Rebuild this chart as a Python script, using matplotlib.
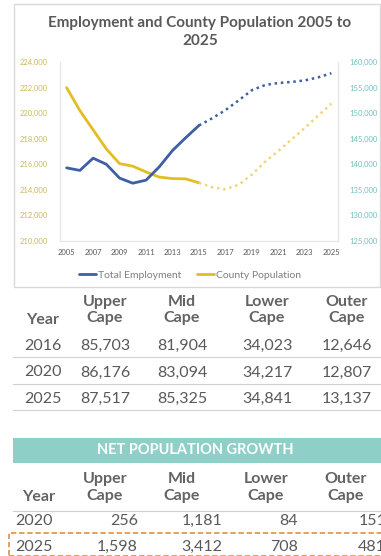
import matplotlib.pyplot as plt
from matplotlib.patches import Rectangle
from matplotlib.lines import Line2D

W, H = 381, 556

# chart data
years_actual = list(range(2005, 2016))
years_proj = list(range(2015, 2026))
employment_actual = [139300, 138800, 141200, 140000, 137300, 136300, 136900,
                     139500, 142700, 145200, 147600]
employment_proj = [147600, 149000, 150600, 152500, 154500, 155500, 155900,
                   156100, 156400, 157000, 157800]
population_actual = [222000, 220200, 218700, 217200, 216050, 215850, 215400,
                     215000, 214880, 214860, 214550]
population_proj = [214550, 214200, 214050, 214400, 215200, 216200, 217050,
                   217950, 218850, 219800, 220750]

# table data
regions = ['Upper\nCape', 'Mid\nCape', 'Lower\nCape', 'Outer\nCape']
pop_years = ['2016', '2020', '2025']
pop_values = [['85,703', '81,904', '34,023', '12,646'],
              ['86,176', '83,094', '34,217', '12,807'],
              ['87,517', '85,325', '34,841', '13,137']]
growth_years = ['2020', '2025']
growth_values = [['256', '1,181', '84', '151'],
                 ['1,598', '3,412', '708', '481']]

BLUE = '#3E5FA3'
GOLD = '#E2BD24'
GOLD_LIGHT = '#F0D67A'
GRAY = '#595959'
HEAD = '#636363'
FONT = 'Lato'

plt.rcParams['font.family'] = FONT


def fx(px):
    return px / W


def fy(py):
    return 1 - py / H


fig = plt.figure(figsize=(W / 100, H / 100), dpi=100)

# chart frame
fig.patches.append(Rectangle((fx(14), fy(287)), fx(380) - fx(14), fy(4) - fy(287),
                             transform=fig.transFigure, fill=False,
                             edgecolor='#D9D9D9', linewidth=1))

ax = fig.add_axes([fx(60), fy(241), fx(338) - fx(60), fy(62) - fy(241)])
ax2 = ax.twinx()

l1, = ax2.plot(years_actual, employment_actual, color=BLUE, lw=2, solid_capstyle='round')
ax2.plot(years_proj, employment_proj, color=BLUE, lw=1.8, linestyle=(0, (1, 1.5)))
l2, = ax.plot(years_actual, population_actual, color=GOLD, lw=2, solid_capstyle='round')
ax.plot(years_proj, population_proj, color=GOLD_LIGHT, lw=1.8, linestyle=(0, (1, 1.5)))

ax.set_xlim(2004.5, 2025.5)
ax.set_ylim(210000, 224000)
ax2.set_ylim(125000, 160000)
ax.set_xticks(range(2005, 2026, 2))
ax.set_yticks(range(210000, 224001, 2000))
ax2.set_yticks(range(125000, 160001, 5000))
ax.yaxis.set_major_formatter(plt.FuncFormatter(lambda v, p: f'{int(v):,}'))
ax2.yaxis.set_major_formatter(plt.FuncFormatter(lambda v, p: f'{int(v):,}'))
ax.tick_params(axis='x', length=0, pad=6, labelsize=5.5, labelcolor=GRAY)
ax.tick_params(axis='y', length=0, pad=9, labelsize=5.5, labelcolor='#CDB85E')
ax2.tick_params(axis='y', length=0, pad=8, labelsize=5.5, labelcolor='#72C0C0')
for a in (ax, ax2):
    for s in a.spines.values():
        s.set_color('#E6E6E6')
        s.set_linewidth(0.8)
    a.spines['top'].set_visible(False)
ax.spines['left'].set_color('#F2F2F2')

fig.text(fx(200), fy(32), 'Employment and County Population 2005 to\n2025',
         ha='center', va='center', fontsize=11, fontweight='bold', color=GRAY,
         linespacing=1.35)

fig.legend([l1, l2], ['Total Employment', 'County Population'], loc='center',
           bbox_to_anchor=(fx(190), fy(275)), ncol=2, frameon=False, fontsize=7.5,
           handlelength=1.6, handletextpad=0.2, columnspacing=1.5,
           labelcolor='#7F7F7F')

# population table
col_x = [105, 182, 267, 347]
fig.text(fx(43), fy(320), 'Year', ha='center', va='center', fontsize=11.5,
         color=HEAD, fontweight='bold')
for x, r in zip(col_x, regions):
    fig.text(fx(x), fy(310), r, ha='center', va='center', fontsize=11.5, color=HEAD,
             linespacing=1.2, fontweight='bold')
row_y = [346, 372.5, 399]
for yy, yr, vals in zip(row_y, pop_years, pop_values):
    fig.text(fx(43), fy(yy), yr, ha='center', va='center', fontsize=11.5, color=GRAY)
    for x, v in zip(col_x, vals):
        fig.text(fx(x), fy(yy), v, ha='center', va='center', fontsize=11.5, color=GRAY)
    fig.add_artist(Line2D([fx(13), 1], [fy(yy + 11), fy(yy + 11)], color='#D0D0D0', lw=0.8))

# net growth table
fig.patches.append(Rectangle((fx(13), fy(463)), 1 - fx(13), fy(438) - fy(463),
                             transform=fig.transFigure, facecolor='#8ECFC8',
                             edgecolor='none'))
fig.text(fx(195), fy(450.5), 'NET POPULATION GROWTH', ha='center', va='center',
         fontsize=10.5, color='white', fontweight='bold')
fig.text(fx(39), fy(497), 'Year', ha='center', va='center', fontsize=11.5, color=HEAD,
         fontweight='bold')
col_x2 = [105, 182, 266, 346]
for x, r in zip(col_x2, regions):
    fig.text(fx(x), fy(487.5), r, ha='center', va='center', fontsize=11.5, color=HEAD,
             linespacing=1.2, fontweight='bold')
fig.add_artist(Line2D([fx(13), 1], [fy(511), fy(511)], color='#D0D0D0', lw=0.8))
right_x = [138, 222, 298, 386]
row_y2 = [521, 547]
for yy, yr, vals in zip(row_y2, growth_years, growth_values):
    fig.text(fx(15), fy(yy), yr, ha='left', va='center', fontsize=11.5, color=GRAY)
    for x, v in zip(right_x, vals):
        fig.text(fx(x), fy(yy), v, ha='right', va='center', fontsize=11.5, color=GRAY)

fig.patches.append(Rectangle((fx(9), fy(556)), fx(390) - fx(9), fy(533) - fy(556),
                             transform=fig.transFigure, fill=False,
                             edgecolor='#E59A4A', linewidth=1.3, linestyle=(0, (3, 1.5))))

fig.savefig('out.png', dpi=100)
